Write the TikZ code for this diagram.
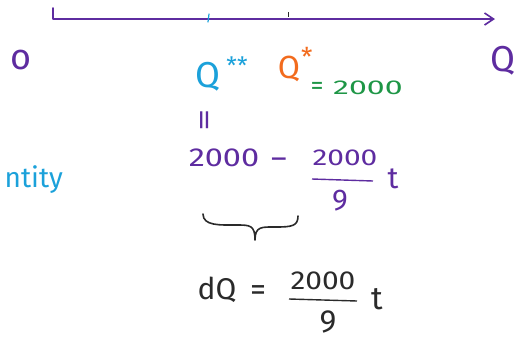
\documentclass[tikz,border=0pt]{standalone}
\usepackage{fontspec}
\usepackage{graphicx}
\setmainfont{Fira Sans}
\usetikzlibrary{arrows.meta}
\definecolor{pur}{HTML}{5E2CA0}
\definecolor{blu}{HTML}{1BA1DA}
\definecolor{ora}{HTML}{F26B1D}
\definecolor{grn}{HTML}{1E9646}
\definecolor{blk}{HTML}{2A2A2A}
\newcommand{\wide}[2]{\scalebox{#1}[1]{#2}}
\tikzset{
  ink/.style={line width=1.6pt, line cap=round, line join=round},
  fs/.style={inner sep=0pt, font=\fontsize{#1}{#1}\selectfont},
}
\begin{document}
\begin{tikzpicture}[x=1pt,y=-1pt]
\useasboundingbox (0,0) rectangle (523,341);
% axis
\coordinate (top) at (53,8);
\coordinate (org) at (53,19);
\coordinate (end) at (495,19);
\draw[ink, pur, -{Straight Barb[length=9pt,width=12pt]}] (top) -- (org) -- (end);
\coordinate (bt1) at (209,14); \coordinate (bt2) at (208,22);
\draw[ink, blu, line width=1.2pt] (bt1) -- (bt2);
\coordinate (kt1) at (288,12); \coordinate (kt2) at (288,17);
\draw[blk, line width=0.9pt] (kt1) -- (kt2);
% labels on axis
\node[fs=36, pur] (o) at (21,60) {o};
\node[fs=36, pur] (Q) at (503,61) {Q};
\node[fs=36, blu] (Qss) at (208,77) {Q};
\node[fs=24, blu, anchor=north] (ss) at (237,57) {**};
\node[fs=32, ora] (Qs) at (289,69) {Q};
\node[fs=26, ora, anchor=north west] (s) at (301,47) {*};
\node[fs=26, grn] (eq) at (317,88) {=};
\node[fs=20, grn, anchor=west] (num0) at (333,88) {\wide{1.6}{2000}};
% vertical equality
\node[fs=30, pur, rotate=90] (veq) at (208,120) {\wide{1.5}{=}};
% expression
\node[fs=26, pur] (expr) at (224,158) {\wide{1.25}{2000}};
\node[fs=30, pur] (minus) at (279,163) {–};
\node[fs=23, pur] (num1) at (345,158) {\wide{1.3}{2000}};
\draw[pur, line width=1.4pt] (312,179) -- (373,181);
\node[fs=30, pur] (den1) at (340,201) {9};
\node[fs=30, pur] (t1) at (393,179) {t};
% cut-off word
\node[fs=28, blu, anchor=base east] (word) at (63,187) {ntity};
% brace
\draw[ink, blk] (203,214) .. controls (203,226) and (220,225) .. (236,225)
  .. controls (250,225) and (255,225) .. (255,240)
  .. controls (255,226) and (262,227) .. (276,227)
  .. controls (292,227) and (298,226) .. (298,216);
% bottom equation
\node[fs=30, blk] (dQ) at (217,290) {dQ};
\node[fs=32, blk] (eq2) at (258,293) {=};
\node[fs=26, blk] (num2) at (323,281) {\wide{1.15}{2000}};
\draw[blk, line width=1.4pt] (289,299) -- (357,301);
\node[fs=32, blk] (den2) at (328,322) {9};
\node[fs=32, blk] (t2) at (377,299) {t};
\end{tikzpicture}
\end{document}
